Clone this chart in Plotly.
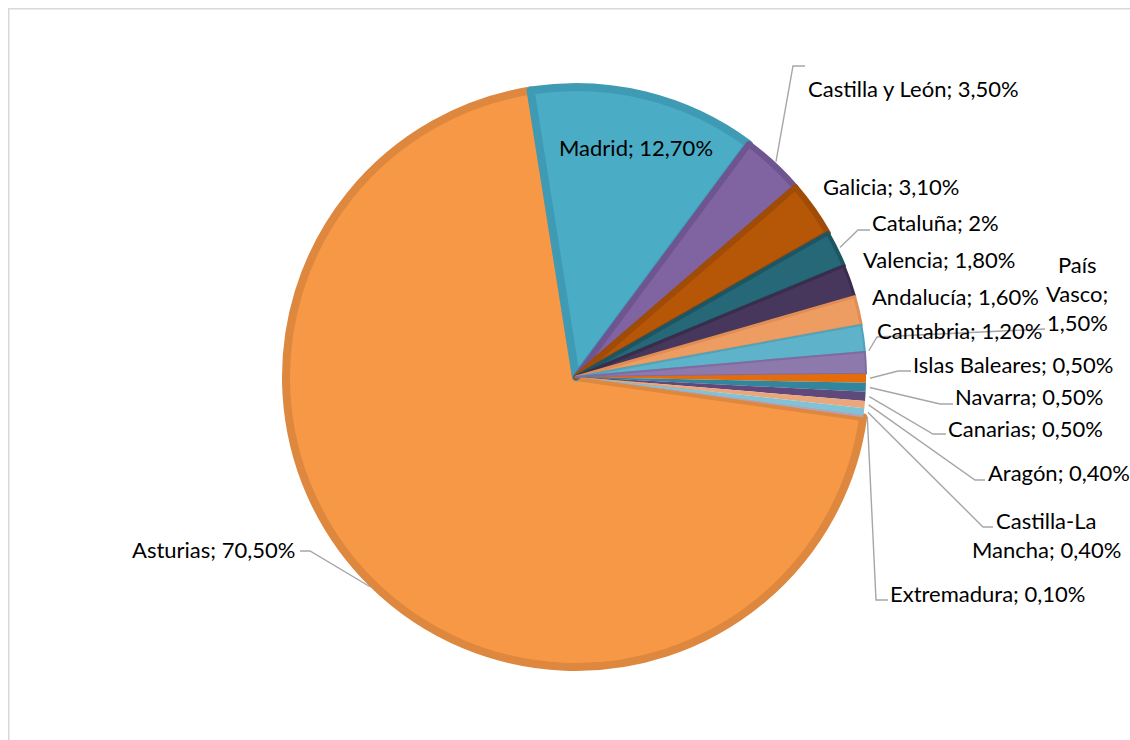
import math
import plotly.graph_objects as go

# ---------------- data ----------------
regions = ["Asturias", "Madrid", "Castilla y León", "Galicia", "Cataluña", "Valencia",
           "Andalucía", "País Vasco", "Cantabria", "Islas Baleares", "Navarra",
           "Canarias", "Aragón", "Castilla-La Mancha", "Extremadura"]
shares = [70.5, 12.7, 3.5, 3.1, 2.0, 1.8, 1.6, 1.5, 1.2, 0.5, 0.5, 0.5, 0.4, 0.4, 0.1]

# label text (line breaks as drawn in the reference)
label_text = {"País Vasco": "País\nVasco;\n{p}", "Castilla-La Mancha": "Castilla-La\nMancha; {p}"}

# ---------------- style ----------------
fills = ["#F69845", "#4BACC6", "#8064A2", "#B65708", "#276878", "#47375C",
         "#EE9D62", "#5EB3CA", "#8E79AD", "#E46C0A", "#31859C",
         "#5F497A", "#EBA77B", "#80C3D5", "#B3A2C7"]
bands = ["#DE873E", "#3F9BB4", "#6F5590", "#A04B06", "#1E5563", "#3A2C4C",
         "#E08E55", "#4FA3BA", "#806BA0", "#E46C0A", "#31859C",
         "#5F497A", "#EBA77B", "#80C3D5", "#B3A2C7"]
band_w = [8, 8, 6, 6, 4, 3, 3, 2, 2, 0, 0, 0, 0, 0, 0]

W, H = 1130, 740
CX, CY, R = 576, 377, 290            # pie centre / radius in px
ROT = -9                             # Madrid start angle (deg clockwise from 12 o'clock)
FONT = "Lato, 'Liberation Sans', sans-serif"
FS = 22
TXT = "#000000"
LEAD = "#A6A6A6"
LINE_GAP = 29

# label anchors (px): x, y of first line centre, xanchor
label_pos = {
    "Asturias": (297, 549, "right"),
    "Madrid": (636, 148, "center"),
    "Castilla y León": (806, 88, "left"),
    "Galicia": (821, 186, "left"),
    "Cataluña": (870, 222, "left"),
    "Valencia": (861, 259, "left"),
    "Andalucía": (870, 296, "left"),
    "País Vasco": (1077, 264, "center"),
    "Cantabria": (875, 330, "left"),
    "Islas Baleares": (911, 365, "left"),
    "Navarra": (953, 396, "left"),
    "Canarias": (946, 428, "left"),
    "Aragón": (986, 472, "left"),
    "Castilla-La Mancha": (1046, 520, "center"),
    "Extremadura": (888, 593, "left"),
}
# leader lines: position inside slice (0..1) and elbow / end points (px)
leaders = {
    "Asturias": (0.5, [(310, 551), (300, 551)]),
    "Castilla y León": (0.5, [(793, 66), (805, 66)]),
    "Cataluña": (0.5, [(858, 230), (870, 230)]),
    "País Vasco": (0.97, [(877, 337), (1045, 329)]),
    "Islas Baleares": (0.5, [(898, 371), (911, 371)]),
    "Navarra": (0.5, [(940, 404), (953, 404)]),
    "Canarias": (0.5, [(933, 434), (946, 434)]),
    "Aragón": (0.5, [(975, 480), (985, 480)]),
    "Castilla-La Mancha": (0.5, [(983, 527), (993, 527)]),
    "Extremadura": (0.5, [(876, 600), (888, 600)]),
}


def px(x):
    return x / W


def py(y):
    return 1 - y / H


def fmt(v):
    if abs(v - round(v)) < 1e-9:
        return f"{int(round(v))}%"
    return f"{v:.2f}".replace(".", ",") + "%"


total = sum(shares)
rot_first = ROT - shares[0] / total * 360  # Asturias start so that Madrid starts at ROT

fig = go.Figure(go.Pie(
    labels=regions, values=shares, sort=False, direction="clockwise",
    rotation=rot_first,
    marker=dict(colors=fills, line=dict(color=bands, width=band_w)),
    textinfo="none", hoverinfo="skip", showlegend=False,
    domain=dict(x=[px(CX - R), px(CX + R)], y=[py(CY + R), py(CY - R)]),
))

# slice angles (computed from the data)
angles = {}
a = rot_first
for name, v in zip(regions, shares):
    span = v / total * 360
    angles[name] = (a, span)
    a += span

annotations = []
for name, v in zip(regions, shares):
    x, y, anchor = label_pos[name]
    tmpl = label_text.get(name, "{n}; {p}")
    text = tmpl.format(n=name, p=fmt(v))
    for i, line in enumerate(text.split("\n")):
        annotations.append(dict(
            x=px(x), y=py(y + i * LINE_GAP), xref="paper", yref="paper",
            text=line, showarrow=False, xanchor=anchor, yanchor="middle",
            font=dict(family=FONT, size=FS, color=TXT)))

shapes = []
RL = R + 4
for name, (frac, pts) in leaders.items():
    a0, span = angles[name]
    ang = math.radians(a0 + span * frac)
    sx = CX + RL * math.sin(ang)
    sy = CY - RL * math.cos(ang)
    path = f"M{px(sx)},{py(sy)}" + "".join(f" L{px(x)},{py(y)}" for x, y in pts)
    shapes.append(dict(type="path", path=path, xref="paper", yref="paper",
                       line=dict(color=LEAD, width=1.4)))

# chart-area border (left and top edges visible)
shapes.append(dict(type="line", xref="paper", yref="paper", x0=px(8.75), x1=px(8.75),
                   y0=py(8), y1=0, line=dict(color="#D9D9D9", width=1.5)))
shapes.append(dict(type="line", xref="paper", yref="paper", x0=px(8), x1=1,
                   y0=py(8.75), y1=py(8.75), line=dict(color="#D9D9D9", width=1.5)))

fig.update_layout(
    width=W, height=H, margin=dict(l=0, r=0, t=0, b=0),
    paper_bgcolor="white", plot_bgcolor="white",
    annotations=annotations, shapes=shapes,
)

fig.write_html(
    "out.html",
    config={"displayModeBar": False},
    post_script="document.body.style.margin='0';"
                "document.documentElement.style.overflow='hidden';"
                "document.body.style.overflow='hidden';",
)
